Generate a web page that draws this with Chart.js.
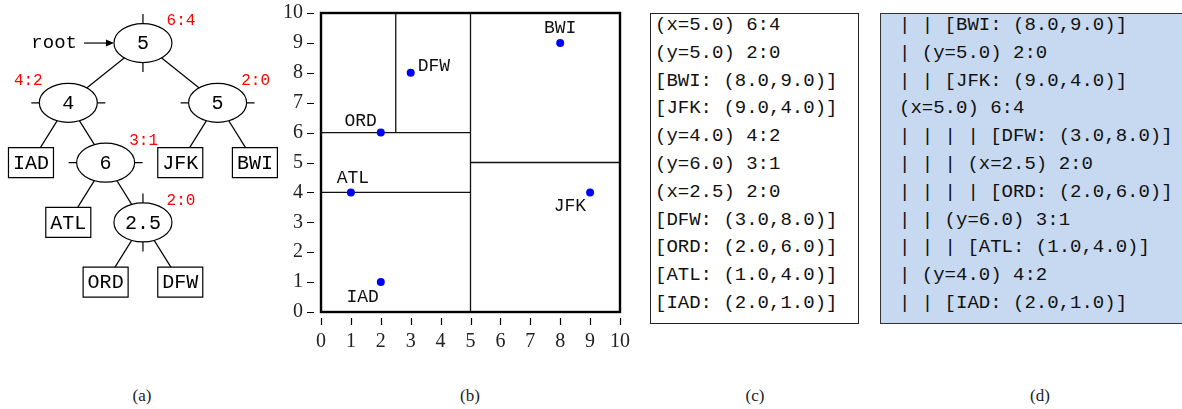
<!DOCTYPE html>
<html>
<head>
<meta charset="utf-8">
<script src="https://cdn.jsdelivr.net/npm/chart.js@4.4.0/dist/chart.umd.min.js"></script>
<style>
  html, body { margin: 0; padding: 0; background: #fff; overflow: hidden; }
  body { width: 1182px; height: 409px; position: relative; }
  canvas { position: absolute; }
  .box { position: absolute; top: 13px; height: 311px; box-sizing: border-box; overflow: hidden; }
  .box pre { position: absolute; margin: 0; top: -2px; font-family: "Liberation Mono", monospace;
             font-size: 19px; line-height: 27.8px; color: #111; }
  #listing { left: 650px; width: 209px; border: 1px solid #222; }
  #listing pre { left: 4px; }
  #tree-dump { left: 880px; width: 320px; border: 1.5px solid #333; background: #c6d9f0; }
  #tree-dump pre { left: 18px; }
  .cap { position: absolute; top: 386px; font-family: "Liberation Serif", serif; font-size: 17px;
         color: #222; transform: translateX(-50%); }
</style>
</head>
<body>
<canvas id="tree" width="290" height="330" style="left:0;top:0"></canvas>
<canvas id="plane" width="360" height="360" style="left:280px;top:0"></canvas>
<div class="box" id="listing"><pre id="listing-text"></pre></div>
<div class="box" id="tree-dump"><pre id="dump-text"></pre></div>
<div class="cap" style="left:142px">(a)</div>
<div class="cap" style="left:470px">(b)</div>
<div class="cap" style="left:755px">(c)</div>
<div class="cap" style="left:1040px">(d)</div>

<script>
// airports (panel b)
const airports = ['ATL', 'BWI', 'DFW', 'IAD', 'JFK', 'ORD'];
const airportX = [1, 8, 3, 2, 9, 2];
const airportY = [4, 9, 8, 1, 4, 6];

// splitting lines of the kd-tree
const splitAxis = ['x', 'y', 'y', 'y', 'x'];
const splitValue = [5, 5, 4, 6, 2.5];
const splitFrom = [0, 5, 0, 0, 6];
const splitTo = [10, 10, 5, 5, 10];

const axisTicks = [0, 1, 2, 3, 4, 5, 6, 7, 8, 9, 10];

// tree nodes (panel a): slot = column, depth = row
const treeLabels = ['5', '4', '5', 'IAD', '6', 'JFK', 'BWI', 'ATL', '2.5', 'ORD', 'DFW'];
const treeSlot = [3, 1, 5, 0, 2, 4, 6, 1, 3, 2, 4];
const treeDepth = [0, 1, 1, 2, 2, 2, 2, 3, 3, 4, 4];
const treeParent = [-1, 0, 0, 1, 1, 2, 2, 4, 4, 8, 8];
const treeCut = ['x', 'y', 'y', null, 'y', null, null, null, 'x', null, null];
const treeCounts = ['6:4', '4:2', '2:0', null, '3:1', null, null, null, '2:0', null, null];

// text listings (panels c, d)
const listingLines = [
  '(x=5.0) 6:4', '(y=5.0) 2:0', '[BWI: (8.0,9.0)]', '[JFK: (9.0,4.0)]',
  '(y=4.0) 4:2', '(y=6.0) 3:1', '(x=2.5) 2:0', '[DFW: (3.0,8.0)]',
  '[ORD: (2.0,6.0)]', '[ATL: (1.0,4.0)]', '[IAD: (2.0,1.0)]'
];
const dumpLines = [
  '| | [BWI: (8.0,9.0)]', '| (y=5.0) 2:0', '| | [JFK: (9.0,4.0)]', '(x=5.0) 6:4',
  '| | | | [DFW: (3.0,8.0)]', '| | | (x=2.5) 2:0', '| | | | [ORD: (2.0,6.0)]',
  '| | (y=6.0) 3:1', '| | | [ATL: (1.0,4.0)]', '| (y=4.0) 4:2', '| | [IAD: (2.0,1.0)]'
];

document.getElementById('listing-text').textContent = listingLines.join('\n');
document.getElementById('dump-text').textContent = dumpLines.join('\n');

const mono = '"Liberation Mono", monospace';

// ---------- panel (a) ----------
const countLeft = [false, true, false, false, false, false, false, false, false, false, false];

const treeDraw = {
  id: 'treeDraw',
  afterDatasetsDraw(chart) {
    const ctx = chart.ctx;
    const pts = chart.getDatasetMeta(0).data;
    ctx.save();
    ctx.strokeStyle = '#000';
    ctx.lineWidth = 1.2;
    treeParent.forEach((p, i) => {
      if (p < 0) return;
      ctx.beginPath();
      ctx.moveTo(pts[p].x, pts[p].y);
      ctx.lineTo(pts[i].x, pts[i].y);
      ctx.stroke();
    });
    ctx.textAlign = 'center';
    ctx.textBaseline = 'middle';
    pts.forEach((pt, i) => {
      const cx = pt.x, cy = pt.y;
      ctx.fillStyle = '#fff';
      ctx.beginPath();
      if (treeCut[i]) {
        ctx.ellipse(cx, cy, 29, 19.5, 0, 0, Math.PI * 2);
      } else {
        ctx.rect(cx - 22.5, cy - 15, 45, 30);
      }
      ctx.fill();
      ctx.stroke();
      if (treeCut[i] === 'x') {
        ctx.beginPath();
        ctx.moveTo(cx, cy - 19.5); ctx.lineTo(cx, cy - 29);
        ctx.moveTo(cx, cy + 19.5); ctx.lineTo(cx, cy + 29);
        ctx.stroke();
      } else if (treeCut[i] === 'y') {
        ctx.beginPath();
        ctx.moveTo(cx - 29, cy); ctx.lineTo(cx - 37, cy);
        ctx.moveTo(cx + 29, cy); ctx.lineTo(cx + 37, cy);
        ctx.stroke();
      }
      ctx.fillStyle = '#000';
      ctx.font = '20px ' + mono;
      ctx.fillText(treeLabels[i], cx, cy + 1);
      if (treeCounts[i]) {
        ctx.fillStyle = '#ff0000';
        ctx.font = '16px ' + mono;
        ctx.fillText(treeCounts[i], cx + (countLeft[i] ? -40 : 38), cy - 22);
      }
    });
    // root pointer
    const r = pts[0];
    ctx.fillStyle = '#000';
    ctx.font = '19px ' + mono;
    ctx.textAlign = 'right';
    ctx.fillText('root', r.x - 66, r.y);
    ctx.beginPath();
    ctx.moveTo(r.x - 59, r.y); ctx.lineTo(r.x - 34, r.y);
    ctx.stroke();
    ctx.beginPath();
    ctx.moveTo(r.x - 29, r.y);
    ctx.lineTo(r.x - 37, r.y - 3.5);
    ctx.lineTo(r.x - 37, r.y + 3.5);
    ctx.closePath();
    ctx.fill();
    ctx.restore();
  }
};

new Chart(document.getElementById('tree'), {
  type: 'scatter',
  data: {
    labels: treeLabels,
    datasets: [{
      data: treeSlot.map((s, i) => ({ x: s, y: treeDepth[i] })),
      pointRadius: 0
    }]
  },
  options: {
    responsive: false,
    animation: false,
    events: [],
    layout: { padding: 0 },
    plugins: { legend: { display: false }, tooltip: { enabled: false } },
    scales: {
      x: { display: false, min: -0.83, max: 6.94 },
      y: { display: false, reverse: true, min: -0.72, max: 4.80 }
    }
  },
  plugins: [treeDraw]
});

// ---------- panel (b) ----------
const labelPlace = {
  ATL: ['center', 2, -14], BWI: ['center', 0, -15], DFW: ['left', 7, -7],
  IAD: ['right', -2, 15], JFK: ['right', -4, 14], ORD: ['right', -4, -11]
};

const frameAndLabels = {
  id: 'frameAndLabels',
  afterDraw(chart) {
    const { ctx, chartArea: a, scales } = chart;
    ctx.save();
    ctx.strokeStyle = '#000';
    ctx.lineWidth = 1.2;
    ctx.beginPath();
    scales.x.ticks.forEach(t => {
      const px = Math.round(scales.x.getPixelForValue(t.value)) + 0.5;
      ctx.moveTo(px, a.bottom + 6); ctx.lineTo(px, a.bottom + 13);
    });
    scales.y.ticks.forEach(t => {
      const py = Math.round(scales.y.getPixelForValue(t.value)) + 0.5;
      ctx.moveTo(a.left - 14, py); ctx.lineTo(a.left - 7, py);
    });
    ctx.stroke();
    ctx.lineWidth = 2.4;
    ctx.strokeRect(a.left, a.top, a.width, a.height);

    const pts = chart.getDatasetMeta(0).data;
    ctx.fillStyle = '#111';
    ctx.font = '18px ' + mono;
    ctx.textBaseline = 'middle';
    pts.forEach((pt, i) => {
      const [align, dx, dy] = labelPlace[airports[i]];
      ctx.textAlign = align;
      ctx.fillText(airports[i], pt.x + dx, pt.y + dy);
    });
    ctx.restore();
  }
};

const splitSets = splitAxis.map((ax, i) => ({
  type: 'line',
  data: ax === 'x'
    ? [{ x: splitValue[i], y: splitFrom[i] }, { x: splitValue[i], y: splitTo[i] }]
    : [{ x: splitFrom[i], y: splitValue[i] }, { x: splitTo[i], y: splitValue[i] }],
  borderColor: '#111',
  borderWidth: 1.3,
  pointRadius: 0,
  fill: false
}));

// tick labels are pushed off the frame by invisible tick marks (ticks.padding would also pad the layout)
const serifTicks = { padding: 0, color: '#222', font: { family: '"Liberation Serif", serif', size: 20 } };
const hiddenTickGrid = { display: true, drawOnChartArea: false, drawTicks: true, tickLength: 18, tickColor: 'rgba(0,0,0,0)' };

new Chart(document.getElementById('plane'), {
  type: 'scatter',
  data: {
    datasets: [{
      data: airportX.map((x, i) => ({ x: x, y: airportY[i] })),
      backgroundColor: '#0000ff',
      borderColor: '#0000ff',
      pointRadius: 4,
      borderWidth: 0
    }].concat(splitSets)
  },
  options: {
    responsive: false,
    animation: false,
    events: [],
    layout: { padding: { top: 13, right: 20, left: 0, bottom: 0 } },
    plugins: { legend: { display: false }, tooltip: { enabled: false } },
    scales: {
      x: {
        type: 'linear', min: 0, max: 10,
        afterBuildTicks: s => { s.ticks = axisTicks.map(v => ({ value: v })); },
        afterFit: s => { s.height = 48; },
        grid: hiddenTickGrid,
        border: { display: false },
        ticks: serifTicks
      },
      y: {
        type: 'linear', min: 0, max: 10,
        afterBuildTicks: s => { s.ticks = axisTicks.map(v => ({ value: v })); },
        afterFit: s => { s.width = 41; },
        grid: hiddenTickGrid,
        border: { display: false },
        ticks: serifTicks
      }
    }
  },
  plugins: [frameAndLabels]
});
</script>
</body>
</html>
